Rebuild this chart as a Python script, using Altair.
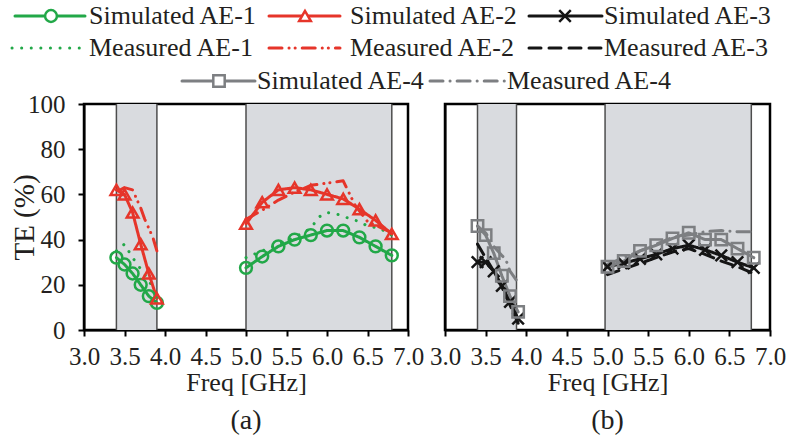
import altair as alt
import pandas as pd

# ---------------- data ----------------
SERIES = ["Simulated AE-1", "Simulated AE-2", "Simulated AE-3",
          "Measured AE-1", "Measured AE-2", "Measured AE-3",
          "Simulated AE-4", "Measured AE-4"]
SIMULATED = ["Simulated AE-1", "Simulated AE-2", "Simulated AE-3", "Simulated AE-4"]

x_ticks = [3.0, 3.5, 4.0, 4.5, 5.0, 5.5, 6.0, 6.5, 7.0]
y_ticks = [0, 20, 40, 60, 80, 100]

freq_low = [3.4, 3.5, 3.6, 3.7, 3.8, 3.9]
freq_high = [5.0, 5.2, 5.4, 5.6, 5.8, 6.0, 6.2, 6.4, 6.6, 6.8]

# panel (a)
sim_ae1_low = [32, 29, 25, 20, 15, 12]
sim_ae1_high = [27.5, 32.5, 37, 40, 42, 44, 44, 41, 37, 33]
meas_ae1_low_f = [3.4, 3.5, 3.6, 3.7, 3.8, 3.9]
meas_ae1_low = [35, 38, 32, 27, 22, 15]
meas_ae1_high_f = [5.0, 5.2, 5.4, 5.6, 5.8, 5.9, 6.0, 6.15, 6.3, 6.4, 6.5, 6.65, 6.8]
meas_ae1_high = [32, 35, 38, 41, 45, 50, 52, 51, 49, 48, 46, 45, 42]

sim_ae2_low = [62, 60, 52, 38, 25, 14]
sim_ae2_high = [47, 56.5, 62, 63, 62, 60, 58, 53.5, 48.5, 42.5]
meas_ae2_low_f = [3.45, 3.5, 3.6, 3.65, 3.7, 3.75, 3.85, 3.9]
meas_ae2_low = [62, 63, 62, 58, 54, 49, 41, 35]
meas_ae2_high_f = [5.0, 5.2, 5.4, 5.6, 5.8, 6.0, 6.2, 6.35, 6.5, 6.65, 6.8]
meas_ae2_high = [49, 53, 57.5, 61, 64, 65, 66, 55, 48, 45.5, 43]

# panel (b)
sim_ae3_low = [30, 30, 26, 19.5, 12.5, 5]
sim_ae3_high = [28, 29.5, 31.5, 33.5, 36, 37.5, 35.5, 33, 30, 27.5]
meas_ae3_low = [38, 32, 26, 19, 11, 3]
meas_ae3_high = [24.5, 27, 29.5, 32, 34.5, 36, 33.5, 30.5, 28, 25]

sim_ae4_low = [46, 42, 34, 24, 15, 8]
sim_ae4_high = [28, 30.5, 35, 37.5, 40.5, 43, 40, 40, 36, 32]
meas_ae4_low_f = [3.4, 3.5, 3.6, 3.7, 3.75, 3.8, 3.88]
meas_ae4_low = [46, 43, 37, 33, 31, 26, 22]
meas_ae4_high_f = [5.0, 5.2, 5.4, 5.6, 5.8, 6.0, 6.2, 6.4, 6.6, 6.78]
meas_ae4_high = [29, 32, 35, 38, 41, 42, 43.5, 44, 43.5, 43.5]

# shaded frequency bands
bands_a = [(3.4, 3.9), (5.0, 6.8)]
bands_b = [(3.4, 3.88), (4.97, 6.77)]

# ---------------- styles ----------------
GREEN, RED, BLACK, GRAY = "#22a848", "#e6352a", "#151515", "#7d7f82"
COLORS = [GREEN, RED, BLACK, GREEN, RED, BLACK, GRAY, GRAY]
DASHES = [[1, 0], [1, 0], [1, 0], [0.1, 9.5], [13, 7, 0.1, 6, 0.1, 7], [12, 8],
          [1, 0], [13, 7, 0.1, 7]]
WIDTHS = [3, 3, 3, 5, 3, 3.5, 3, 3]
SHAPES = ["circle", "triangle-up", "M-1,-1L1,1M-1,1L1,-1", "square"]
SIZES = [140, 130, 120, 110]
BAND = "#d9dbdf"
TXT = "#231f20"
FONT = "Liberation Serif"

# legend layout (page pixel positions)
LEG = {
    "Simulated AE-1": (13, 83, 49, 87, 17),
    "Simulated AE-2": (267, 338, 303, 348, 17),
    "Simulated AE-3": (527, 600, 563, 602, 17),
    "Measured AE-1": (10, 80, None, 87, 49),
    "Measured AE-2": (267, 338, None, 348, 49),
    "Measured AE-3": (527, 600, None, 602, 49),
    "Simulated AE-4": (180, 253, 217, 255, 82),
    "Measured AE-4": (428, 503, None, 505, 82),
}

# ---------------- tables ----------------
rows = []
def add(panel, series, seg, freqs, vals):
    for f, v in zip(freqs, vals):
        rows.append({"panel": panel, "series": series, "seg": seg, "freq": f, "te": v})

add("a", "Simulated AE-1", "low", freq_low, sim_ae1_low)
add("a", "Simulated AE-1", "high", freq_high, sim_ae1_high)
add("a", "Measured AE-1", "low", meas_ae1_low_f, meas_ae1_low)
add("a", "Measured AE-1", "high", meas_ae1_high_f, meas_ae1_high)
add("a", "Simulated AE-2", "low", freq_low, sim_ae2_low)
add("a", "Simulated AE-2", "high", freq_high, sim_ae2_high)
add("a", "Measured AE-2", "low", meas_ae2_low_f, meas_ae2_low)
add("a", "Measured AE-2", "high", meas_ae2_high_f, meas_ae2_high)
add("b", "Simulated AE-3", "low", freq_low, sim_ae3_low)
add("b", "Simulated AE-3", "high", freq_high, sim_ae3_high)
add("b", "Measured AE-3", "low", freq_low, meas_ae3_low)
add("b", "Measured AE-3", "high", freq_high, meas_ae3_high)
add("b", "Simulated AE-4", "low", freq_low, sim_ae4_low)
add("b", "Simulated AE-4", "high", freq_high, sim_ae4_high)
add("b", "Measured AE-4", "low", meas_ae4_low_f, meas_ae4_low)
add("b", "Measured AE-4", "high", meas_ae4_high_f, meas_ae4_high)
data = pd.DataFrame(rows)

def band_tables(bands):
    rect = pd.DataFrame([{"start": s, "end": e, "lo": 0, "hi": 100} for s, e in bands])
    edges = pd.DataFrame([{"edge": v, "lo": 0, "hi": 100} for s, e in bands for v in (s, e)])
    return rect, edges

leg = pd.DataFrame([{"series": k, "x1": v[0], "x2": v[1], "xm": v[2], "tx": v[3], "ly": v[4]}
                    for k, v in LEG.items()])

color_enc = alt.Color("series:N", scale=alt.Scale(domain=SERIES, range=COLORS), legend=None)
dash_enc = alt.StrokeDash("series:N", scale=alt.Scale(domain=SERIES, range=DASHES), legend=None)
width_enc = alt.StrokeWidth("series:N", scale=alt.Scale(domain=SERIES, range=WIDTHS), legend=None)
shape_enc = alt.Shape("series:N", scale=alt.Scale(domain=SIMULATED, range=SHAPES), legend=None)
size_enc = alt.Size("series:N", scale=alt.Scale(domain=SIMULATED, range=SIZES), legend=None)

x_scale = alt.Scale(domain=[3, 7], nice=False, zero=False)
y_scale = alt.Scale(domain=[0, 100], nice=False, zero=False)
W_A, W_B, H = 324, 325, 226


def panel(pname, bands, width, show_y, label):
    d = data[data.panel == pname]
    rect_df, edge_df = band_tables(bands)
    xax = alt.Axis(values=x_ticks, format=".1f", title="Freq [GHz]", labelFlush=False,
                   labelPadding=8, titlePadding=0, titleFontSize=26)
    if show_y:
        yax = alt.Axis(values=y_ticks, title="TE (%)", labelPadding=13, titleFontSize=29,
                       titleX=-60, titleY=H / 2, titleAngle=270, titleBaseline="middle",
                       titleAlign="center")
    else:
        yax = alt.Axis(labels=False, ticks=False, title=None)
    rect = alt.Chart(rect_df).mark_rect(color=BAND).encode(
        x=alt.X("start:Q", scale=x_scale, axis=xax), x2="end:Q",
        y=alt.Y("lo:Q", scale=y_scale, axis=yax), y2="hi:Q")
    edges = alt.Chart(edge_df).mark_rule(color="#4d4d4d", strokeWidth=1.5).encode(
        x=alt.X("edge:Q", scale=x_scale), y=alt.Y("lo:Q", scale=y_scale), y2="hi:Q")
    lines = alt.Chart(d).mark_line(strokeCap="round", strokeJoin="round").encode(
        x=alt.X("freq:Q", scale=x_scale), y=alt.Y("te:Q", scale=y_scale),
        color=color_enc, strokeDash=dash_enc, strokeWidth=width_enc, detail="seg:N")
    pts = alt.Chart(d).transform_filter(
        alt.FieldOneOfPredicate(field="series", oneOf=SIMULATED)
    ).mark_point(filled=False, strokeWidth=2.5, opacity=1).encode(
        x=alt.X("freq:Q", scale=x_scale), y=alt.Y("te:Q", scale=y_scale),
        color=color_enc, shape=shape_enc, size=size_enc)
    body = alt.layer(rect, edges, lines, pts)
    if pname == "a":
        lx = alt.Scale(domain=[82, 82 + width], nice=False, zero=False)
        ly = alt.Scale(domain=[105, 105 + H], nice=False, zero=False, reverse=True)
        lrule = alt.Chart(leg).mark_rule(strokeCap="round").encode(
            x=alt.X("x1:Q", scale=lx, axis=None), x2="x2:Q",
            y=alt.Y("ly:Q", scale=ly, axis=None),
            color=color_enc, strokeDash=dash_enc, strokeWidth=width_enc)
        lpts = alt.Chart(leg).transform_filter(
            alt.FieldOneOfPredicate(field="series", oneOf=SIMULATED)
        ).mark_point(filled=False, strokeWidth=2.5, opacity=1, fill="white").encode(
            x=alt.X("xm:Q", scale=lx, axis=None), y=alt.Y("ly:Q", scale=ly, axis=None),
            color=color_enc, shape=shape_enc, size=size_enc)
        ltxt = alt.Chart(leg).mark_text(align="left", baseline="middle", font=FONT,
                                        fontSize=26, color=TXT).encode(
            x=alt.X("tx:Q", scale=lx, axis=None), y=alt.Y("ly:Q", scale=ly, axis=None),
            text="series:N")
        legend = alt.layer(lrule, lpts, ltxt)
        body = alt.layer(body, legend).resolve_scale(x="independent", y="independent")
    return body.properties(
        width=width, height=H,
        title=alt.TitleParams(label, orient="bottom", frame="group", anchor="middle",
                              font=FONT, fontSize=28, fontWeight="normal", color=TXT,
                              offset=12))


pa = panel("a", bands_a, W_A, True, "(a)")
pb = panel("b", bands_b, W_B, False, "(b)")

chart = alt.hconcat(pa, pb, spacing=37, bounds="flush").properties(
    padding={"left": 8, "top": 1, "right": 0, "bottom": 0}
).configure_view(stroke="black", strokeWidth=2.5).configure_axis(
    labelFont=FONT, labelFontSize=25, labelColor=TXT,
    titleFont=FONT, titleFontWeight="normal", titleColor=TXT,
    domainColor="black", domainWidth=2, tickColor="black", tickWidth=2, tickSize=6,
    grid=False, labelBound=False
)

chart.save("out.html", embed_options={"renderer": "svg", "actions": False})
